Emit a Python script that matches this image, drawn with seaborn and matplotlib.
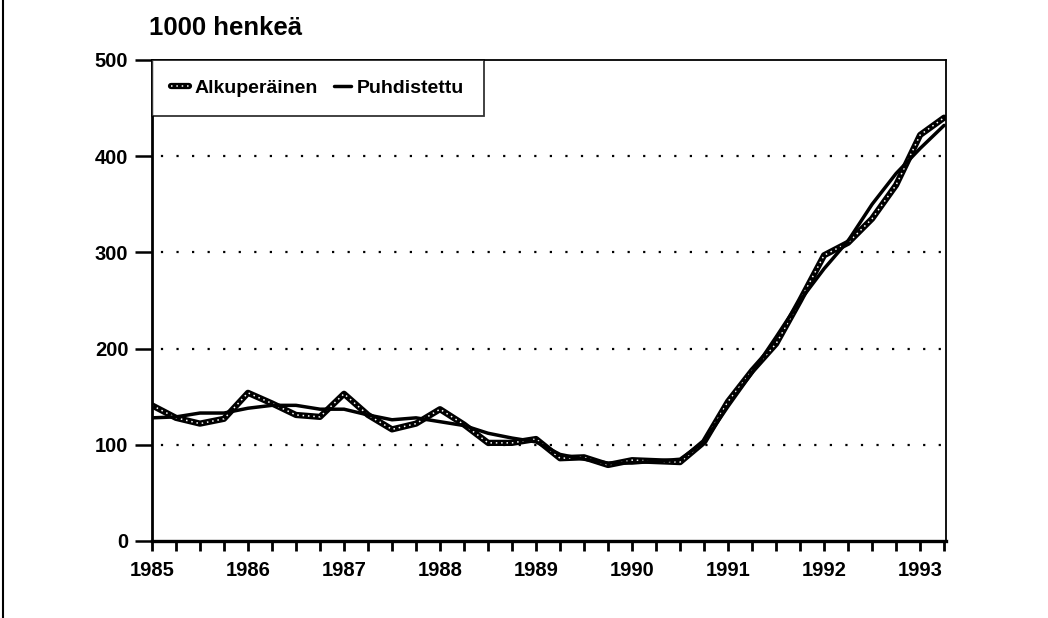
import numpy as np
import pandas as pd
import matplotlib
matplotlib.use("Agg")
import matplotlib.pyplot as plt
from matplotlib.legend_handler import HandlerTuple
from matplotlib.ticker import MultipleLocator
import seaborn as sns

# quarterly data 1985Q1 .. 1993Q2, 1000 persons
quarters = [1985 + i / 4 for i in range(34)]
alkuperainen = [141, 128, 122, 127, 154, 143, 131, 129, 153, 131, 116, 122,
                137, 121, 102, 102, 106, 86, 87, 79, 84, 83, 82, 103,
                145, 177, 205, 250, 297, 310, 335, 370, 422, 440]
puhdistettu = [128, 129, 133, 133, 138, 141, 141, 137, 137, 131, 126, 128,
               124, 120, 112, 107, 103, 90, 85, 81, 81, 83, 85, 103,
               140, 175, 212, 250, 283, 312, 350, 382, 408, 432]
year_labels = [str(y) for y in range(1985, 1994)]
y_ticks = [0, 100, 200, 300, 400, 500]

df = pd.DataFrame({"aika": quarters, "Alkuperäinen": alkuperainen,
                   "Puhdistettu": puhdistettu})

sns.set_style("white")
plt.rcParams["font.family"] = ["Liberation Sans", "DejaVu Sans"]
plt.rcParams["font.weight"] = "bold"
plt.rcParams["text.color"] = "black"
plt.rcParams["xtick.color"] = "black"
plt.rcParams["ytick.color"] = "black"

fig = plt.figure(figsize=(10.48, 6.18), dpi=100)
ax = fig.add_axes([0.145, 0.1246, 0.7577, 0.7784])

# original: thick black line with white dots inside
sns.lineplot(data=df, x="aika", y="Alkuperäinen", ax=ax, color="black",
             lw=4.5, legend=False)
sns.lineplot(data=df, x="aika", y="Alkuperäinen", ax=ax, color="white",
             lw=1.1, linestyle=(0, (1, 2.5)), legend=False)
sns.lineplot(data=df, x="aika", y="Puhdistettu", ax=ax, color="black",
             lw=2.5, legend=False)
l_orig_bg, l_orig_dots, l_puhd = ax.get_lines()[:3]

ax.set_xlim(1985, 1993.27)
ax.set_ylim(0, 500)
ax.set_xticks(range(1985, 1994))
ax.set_xticklabels(year_labels)
ax.xaxis.set_minor_locator(MultipleLocator(0.25))
ax.set_yticks(y_ticks)
ax.set_xlabel("")
ax.set_ylabel("")

for v in y_ticks[1:-1]:
    ax.axhline(v, color="black", lw=1.6, linestyle=(3, (1, 6)), zorder=0)

for s in ax.spines.values():
    s.set_color("black")
    s.set_linewidth(1.3)
ax.spines["bottom"].set_linewidth(2.4)
ax.spines["left"].set_linewidth(2.0)

ax.tick_params(axis="x", which="both", bottom=True, direction="out",
               length=7.5, width=2.0, color="black", labelcolor="black",
               labelsize=14.5, pad=7)
ax.tick_params(axis="y", which="major", left=True, direction="out",
               length=12, width=1.8, color="black", labelcolor="black",
               labelsize=14.5, pad=5)

leg = ax.legend([(l_orig_bg, l_orig_dots), l_puhd],
                ["Alkuperäinen", "Puhdistettu"],
                handler_map={tuple: HandlerTuple(ndivide=1)},
                loc="upper left", ncol=2, frameon=True, fancybox=False,
                fontsize=14, handlelength=0.9, handletextpad=0.3,
                columnspacing=0.8, borderaxespad=0, borderpad=1.0,
                edgecolor="black")
leg.get_frame().set_linewidth(1.3)

fig.text(0.142, 0.936, "1000 henkeä", fontsize=18.5, ha="left", va="bottom")

# left edge line of the scanned page
fig.add_artist(plt.Line2D([0.003, 0.003], [0, 1], color="black", lw=1.5))

fig.savefig("out.png", dpi=100)
